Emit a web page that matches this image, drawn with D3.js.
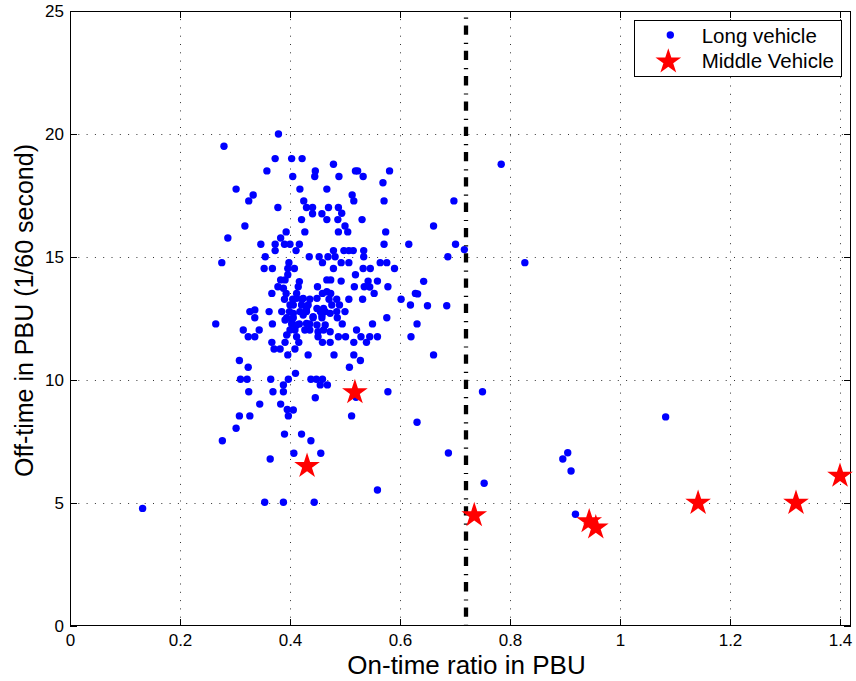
<!DOCTYPE html>
<html>
<head>
<meta charset="utf-8">
<script src="https://d3js.org/d3.v7.min.js"></script>
<style>
  html, body { margin: 0; padding: 0; background: #fff; }
  svg { display: block; font-family: "Liberation Sans", Arial, Helvetica, sans-serif; }
</style>
</head>
<body>
<svg id="chart" width="856" height="681"></svg>
<script>
// Long vehicle observations: [on-time ratio, off-time (1/60 s)]
const longVehicle = [
  [0.379,20.0],[0.28,19.5],[0.373,19.0],[0.403,19.0],[0.422,19.0],[0.479,18.77],[0.358,18.5],[0.446,18.5],
  [0.519,18.5],[0.523,18.5],[0.581,18.5],[0.405,18.27],[0.445,18.27],[0.489,18.27],[0.533,18.27],[0.569,18.02],
  [0.302,17.76],[0.418,17.76],[0.467,17.76],[0.333,17.52],[0.513,17.52],[0.325,17.28],[0.425,17.28],[0.516,17.28],
  [0.571,17.28],[0.378,17.01],[0.43,17.01],[0.441,17.01],[0.47,17.01],[0.488,17.01],[0.458,16.76],[0.441,16.76],
  [0.494,16.78],[0.421,16.52],[0.467,16.52],[0.487,16.52],[0.531,16.52],[0.318,16.26],[0.5,16.26],[0.427,16.02],
  [0.488,16.02],[0.505,16.02],[0.574,16.02],[0.393,16.02],[0.287,15.77],[0.383,15.77],[0.347,15.52],[0.373,15.52],
  [0.39,15.52],[0.4,15.52],[0.417,15.52],[0.571,15.52],[0.616,15.52],[0.373,15.26],[0.411,15.26],[0.479,15.26],
  [0.498,15.26],[0.507,15.26],[0.515,15.26],[0.534,15.26],[0.355,15.01],[0.435,15.01],[0.453,15.01],[0.469,15.01],
  [0.482,15.01],[0.534,15.01],[0.276,14.77],[0.459,14.77],[0.493,14.77],[0.507,14.77],[0.564,14.77],[0.576,14.77],
  [0.398,14.77],[0.353,14.53],[0.368,14.53],[0.396,14.53],[0.408,14.53],[0.479,14.53],[0.533,14.53],[0.546,14.53],
  [0.59,14.53],[0.519,14.28],[0.396,14.28],
  [0.383,14.07],[0.391,14.07],[0.467,14.07],[0.474,14.07],[0.493,14.02],[0.542,14.02],[0.559,14.02],[0.378,13.79],
  [0.415,13.79],[0.45,13.79],[0.517,13.79],[0.535,13.79],[0.578,13.79],[0.367,13.52],[0.393,13.52],[0.412,13.52],
  [0.459,13.52],[0.474,13.52],[0.553,13.52],[0.628,13.52],[0.39,13.28],[0.405,13.28],[0.422,13.28],[0.436,13.28],
  [0.471,13.28],[0.485,13.28],[0.507,13.28],[0.532,13.28],[0.602,13.28],[0.406,13.05],[0.421,13.05],[0.433,13.05],
  [0.476,13.05],[0.49,13.05],[0.619,13.05],[0.327,12.78],[0.362,12.78],[0.385,12.78],[0.399,12.78],[0.418,12.78],
  [0.43,12.78],[0.455,12.78],[0.464,12.78],[0.485,12.78],[0.5,12.78],[0.336,12.53],[0.394,12.53],[0.406,12.53],
  [0.442,12.53],[0.458,12.53],[0.486,12.53],[0.576,12.53],[0.265,12.28],[0.368,12.28],[0.403,12.28],[0.417,12.28],
  [0.436,12.28],[0.495,12.28],[0.55,12.28],[0.631,12.28],[0.315,12.03],[0.344,12.03],[0.4,12.03],[0.409,12.03],
  [0.436,12.03],[0.461,12.03],[0.521,12.03],[0.324,11.76],[0.336,11.76],[0.451,11.76],[0.488,11.76],[0.501,11.76],
  [0.529,11.76],[0.545,11.76],[0.559,11.76],[0.62,11.76],[0.367,11.53],[0.391,11.53],[0.416,11.53],[0.459,11.53],
  [0.473,11.53],[0.516,11.53],[0.539,11.53],[0.371,11.26],[0.382,11.26],[0.409,11.26],[0.396,11.02],[0.433,11.02],
  [0.48,11.02],[0.516,11.02],[0.308,10.79],[0.528,10.79],[0.324,10.52],[0.508,10.52],[0.41,10.27],[0.31,10.03],
  [0.322,10.03],[0.365,10.03],[0.397,10.03],[0.438,10.03],[0.448,10.03],[0.459,10.03],[0.455,9.8],[0.468,9.8],
  [0.388,9.8],[0.325,9.52],[0.369,9.52],[0.388,9.52],[0.578,9.52],[0.446,9.28],[0.345,9.02],[0.383,9.02],
  [0.395,8.8],[0.406,8.78],[0.397,8.54],[0.308,8.54],[0.327,8.54],[0.512,8.54],[0.631,8.28],[0.302,8.04],
  [0.39,7.8],[0.421,7.8],[0.438,7.53],[0.277,7.53],
  [0.364,6.79],[0.407,7.02],[0.456,7.02],[0.559,5.53],[0.132,4.78],[0.354,5.03],[0.388,5.03],[0.444,5.03],
  [0.784,18.77],[0.698,17.28],[0.661,16.26],[0.701,15.52],[0.717,15.3],[0.687,15.01],[0.827,14.77],[0.643,14.01],
  [0.632,13.5],[0.65,13.02],[0.685,13.02],[0.661,11.02],[0.75,9.52],[0.688,7.03],[0.753,5.8],[0.905,7.04],
  [0.896,6.79],[0.911,6.3],[0.919,4.54],[1.083,8.5],[0.52,9.3],
  [0.417,14.0],[0.388,13.73],[0.412,13.32],[0.424,13.32],[0.449,13.32],[0.467,13.59],[0.4,13.05],[0.43,12.91],
  [0.449,12.91],[0.461,12.91],[0.336,12.85],[0.406,12.71],[0.424,12.64],[0.442,12.57],[0.458,12.64],[0.473,12.71],
  [0.391,12.44],[0.403,12.44],[0.412,12.24],[0.43,12.3],[0.449,12.24],[0.464,12.24],[0.427,12.03],[0.451,11.96],
  [0.473,11.96],[0.394,11.83],[0.412,11.76],[0.545,13.78]
];

// Middle vehicle observations
const middleVehicle = [
  [0.431,6.5],[0.518,9.5],[0.735,4.5],[0.944,4.25],[0.956,4.0],[1.142,5.0],[1.32,5.0],[1.4,6.1]
];

// Threshold on the on-time ratio
const threshold = 0.72;

const xTicks = [0, 0.2, 0.4, 0.6, 0.8, 1, 1.2, 1.4];
const yTicks = [0, 5, 10, 15, 20, 25];
const xDomain = [0, 1.42];
const yDomain = [0, 25];

const seriesNames = ["Long vehicle", "Middle Vehicle"];

const svg = d3.select("#chart");
const plotL = 70, plotR = 851, plotT = 11, plotB = 626;

const x = d3.scaleLinear().domain(xDomain).range([plotL, plotR]);
const y = d3.scaleLinear().domain(yDomain).range([plotB, plotT]);

// Dotted grid
const grid = svg.append("g").attr("stroke", "#333").attr("stroke-width", 1)
  .attr("stroke-dasharray", "1,7.3");
grid.selectAll(".gx").data(xTicks.filter(d => d > xDomain[0] && d < xDomain[1])).join("line")
  .attr("x1", d => Math.round(x(d)) + 0.5).attr("x2", d => Math.round(x(d)) + 0.5)
  .attr("y1", plotB).attr("y2", plotT);
grid.selectAll(".gy").data(yTicks.filter(d => d > yDomain[0] && d < yDomain[1])).join("line")
  .attr("y1", d => Math.round(y(d)) + 0.5).attr("y2", d => Math.round(y(d)) + 0.5)
  .attr("x1", plotL).attr("x2", plotR);

// Axes with inward ticks on all four sides
const fmt = d => String(d);
const tickLen = 7;
const axB = svg.append("g").attr("transform", `translate(0,${plotB})`)
  .call(d3.axisBottom(x).tickValues(xTicks).tickFormat(fmt).tickSizeInner(-tickLen).tickSizeOuter(0).tickPadding(8));
const axL = svg.append("g").attr("transform", `translate(${plotL},0)`)
  .call(d3.axisLeft(y).tickValues(yTicks).tickFormat(fmt).tickSizeInner(-tickLen).tickSizeOuter(0).tickPadding(6));
const axT = svg.append("g").attr("transform", `translate(0,${plotT})`)
  .call(d3.axisTop(x).tickValues(xTicks).tickFormat("").tickSizeInner(-tickLen).tickSizeOuter(0));
const axR = svg.append("g").attr("transform", `translate(${plotR},0)`)
  .call(d3.axisRight(y).tickValues(yTicks).tickFormat("").tickSizeInner(-tickLen).tickSizeOuter(0));
[axB, axL, axT, axR].forEach(a => {
  a.select(".domain").remove();
  a.selectAll("line").attr("stroke", "#000");
  a.selectAll("text").attr("fill", "#000").style("font-size", "17px")
    .style("font-family", '"Liberation Sans", Arial, sans-serif');
});

// Axes box
svg.append("rect").attr("x", plotL + 0.5).attr("y", plotT + 0.5)
  .attr("width", plotR - plotL - 1).attr("height", plotB - plotT - 1)
  .attr("fill", "none").attr("stroke", "#000").attr("stroke-width", 1);

// Threshold dash-dot line
svg.append("line")
  .attr("x1", x(threshold)).attr("x2", x(threshold))
  .attr("y1", y(yDomain[1])).attr("y2", y(yDomain[0]))
  .attr("stroke", "#000").attr("stroke-width", 4.3)
  .attr("stroke-dasharray", "9.3,8,1.2,6.8").attr("stroke-dashoffset", 10.8);

// Long vehicle dots
svg.append("g").selectAll("circle").data(longVehicle).join("circle")
  .attr("cx", d => x(d[0])).attr("cy", d => y(d[1])).attr("r", 3.7)
  .attr("fill", "#0000ff");

// Middle vehicle stars
const starR = 13.5;
const star = d3.symbol().type(d3.symbolStar).size(starR * starR / 0.8908130915292852);
svg.append("g").selectAll("path").data(middleVehicle).join("path")
  .attr("transform", d => `translate(${x(d[0])},${y(d[1])})`)
  .attr("d", star()).attr("fill", "#ff0000");

// Axis labels
svg.append("text").attr("x", (plotL + plotR) / 2 + 6).attr("y", 674)
  .attr("text-anchor", "middle").style("font-size", "26px").text("On-time ratio in PBU");
svg.append("text").attr("transform", `translate(33,${(plotT + plotB) / 2 - 8}) rotate(-90)`)
  .attr("text-anchor", "middle").style("font-size", "25px").text("Off-time in PBU (1/60 second)");

// Legend
const lg = svg.append("g");
lg.append("rect").attr("x", 634.5).attr("y", 20.5).attr("width", 207).attr("height", 56)
  .attr("fill", "#fff").attr("stroke", "#000").attr("stroke-width", 1);
lg.append("circle").attr("cx", 670.3).attr("cy", 35).attr("r", 3.7).attr("fill", "#0000ff");
lg.append("path").attr("transform", "translate(668.3,61.7)").attr("d", star()).attr("fill", "#ff0000");
lg.append("text").attr("x", 701.7).attr("y", 43.3).style("font-size", "20.5px").text(seriesNames[0]);
lg.append("text").attr("x", 701.7).attr("y", 68.3).style("font-size", "20.5px").text(seriesNames[1]);
</script>
</body>
</html>
